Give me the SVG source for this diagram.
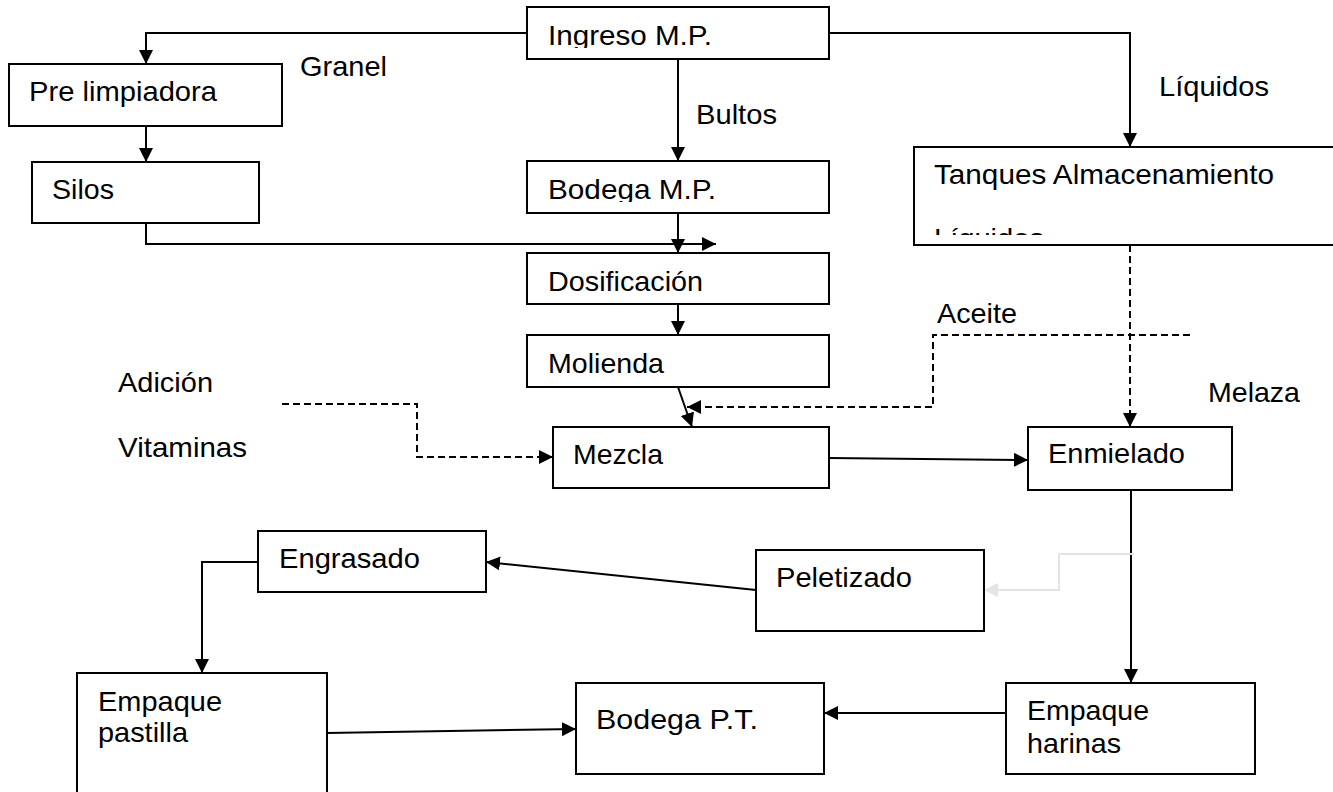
<svg xmlns="http://www.w3.org/2000/svg" width="1333" height="792" viewBox="0 0 1333 792">
<style>
.box{fill:#fff;stroke:#000;stroke-width:2}
.t{font-family:"Liberation Sans",Arial,Helvetica,sans-serif;font-size:28px;fill:#000}
.ln{fill:none;stroke:#000;stroke-width:2}
.ds{fill:none;stroke:#000;stroke-width:2;stroke-dasharray:7 4}
.gr{fill:none;stroke:#e4e4e4;stroke-width:2}
</style>
<defs>
<marker id="ah" markerUnits="userSpaceOnUse" markerWidth="14" markerHeight="14" refX="14" refY="7" orient="auto"><path d="M0,0 L14,7 L0,14 z" fill="#000"/></marker>
<marker id="ahg" markerUnits="userSpaceOnUse" markerWidth="14" markerHeight="14" refX="14" refY="7" orient="auto"><path d="M0,0 L14,7 L0,14 z" fill="#e4e4e4"/></marker>
<clipPath id="c1"><rect x="527" y="7" width="302" height="41"/></clipPath>
<clipPath id="c2"><rect x="527" y="161" width="302" height="41"/></clipPath>
<clipPath id="c3"><rect x="914" y="147" width="430" height="88"/></clipPath>
</defs>

<g id="connectors">
<path class="ln" d="M527,33 H146 V64" marker-end="url(#ah)"/>
<path class="ln" d="M829,33 H1130 V147" marker-end="url(#ah)"/>
<path class="ln" d="M678,59 V161" marker-end="url(#ah)"/>
<path class="ln" d="M146,126 V162" marker-end="url(#ah)"/>
<path class="ln" d="M146,223 V244 H716" marker-end="url(#ah)"/>
<path class="ln" d="M678,213 V253" marker-end="url(#ah)"/>
<path class="ln" d="M678,304 V335" marker-end="url(#ah)"/>
<path class="ln" d="M678,387 L692,427" marker-end="url(#ah)"/>
<path class="ds" d="M1190,335 H933 V407 H687" marker-end="url(#ah)"/>
<path class="ds" d="M1130,245 V427" marker-end="url(#ah)"/>
<path class="ds" d="M282,404 H417 V457 H553" marker-end="url(#ah)"/>
<path class="ln" d="M829,458 L1028,460" marker-end="url(#ah)"/>
<path class="ln" d="M1131,490 V683" marker-end="url(#ah)"/>
<path class="gr" d="M1134,554 H1059 V590 H984" marker-end="url(#ahg)"/>
<path class="ln" d="M756,590 L486,562" marker-end="url(#ah)"/>
<path class="ln" d="M258,562 H202 V673" marker-end="url(#ah)"/>
<path class="ln" d="M327,733 L576,729" marker-end="url(#ah)"/>
<path class="ln" d="M1006,713 H824" marker-end="url(#ah)"/>
</g>

<g id="labels">
<text class="t" x="300" y="76" textLength="87" lengthAdjust="spacingAndGlyphs">Granel</text>
<text class="t" x="696" y="124" textLength="81" lengthAdjust="spacingAndGlyphs">Bultos</text>
<text class="t" x="1159" y="96" textLength="110" lengthAdjust="spacingAndGlyphs">Líquidos</text>
<text class="t" x="937" y="323" textLength="80" lengthAdjust="spacingAndGlyphs">Aceite</text>
<text class="t" x="1208" y="402" textLength="92" lengthAdjust="spacingAndGlyphs">Melaza</text>
<text class="t" x="118" y="392" textLength="95" lengthAdjust="spacingAndGlyphs">Adición</text>
<text class="t" x="118" y="457" textLength="129" lengthAdjust="spacingAndGlyphs">Vitaminas</text>
</g>

<g id="ingreso">
<rect class="box" x="527" y="7" width="302" height="52"/>
<text class="t" x="548" y="45" clip-path="url(#c1)" textLength="164" lengthAdjust="spacingAndGlyphs">Ingreso M.P.</text>
</g>
<g id="prelimpiadora">
<rect class="box" x="9" y="64" width="273" height="62"/>
<text class="t" x="29" y="101" textLength="188" lengthAdjust="spacingAndGlyphs">Pre limpiadora</text>
</g>
<g id="silos">
<rect class="box" x="32" y="162" width="227" height="61"/>
<text class="t" x="52" y="199" textLength="62" lengthAdjust="spacingAndGlyphs">Silos</text>
</g>
<g id="bodegamp">
<rect class="box" x="527" y="161" width="302" height="52"/>
<text class="t" x="548" y="199" clip-path="url(#c2)" textLength="168" lengthAdjust="spacingAndGlyphs">Bodega M.P.</text>
</g>
<g id="tanques">
<rect class="box" x="914" y="147" width="430" height="98"/>
<text class="t" x="934" y="184" textLength="340" lengthAdjust="spacingAndGlyphs">Tanques Almacenamiento</text>
<text class="t" x="934" y="248" clip-path="url(#c3)" textLength="110" lengthAdjust="spacingAndGlyphs">Líquidos</text>
</g>
<g id="dosificacion">
<rect class="box" x="527" y="253" width="302" height="51"/>
<text class="t" x="548" y="291" textLength="155" lengthAdjust="spacingAndGlyphs">Dosificación</text>
</g>
<g id="molienda">
<rect class="box" x="527" y="335" width="302" height="52"/>
<text class="t" x="548" y="373" textLength="116" lengthAdjust="spacingAndGlyphs">Molienda</text>
</g>
<g id="mezcla">
<rect class="box" x="553" y="427" width="276" height="61"/>
<text class="t" x="573" y="464" textLength="90" lengthAdjust="spacingAndGlyphs">Mezcla</text>
</g>
<g id="enmielado">
<rect class="box" x="1028" y="427" width="204" height="63"/>
<text class="t" x="1048" y="463" textLength="137" lengthAdjust="spacingAndGlyphs">Enmielado</text>
</g>
<g id="peletizado">
<rect class="box" x="756" y="550" width="228" height="81"/>
<text class="t" x="776" y="587" textLength="136" lengthAdjust="spacingAndGlyphs">Peletizado</text>
</g>
<g id="engrasado">
<rect class="box" x="258" y="531" width="228" height="61"/>
<text class="t" x="279" y="568" textLength="141" lengthAdjust="spacingAndGlyphs">Engrasado</text>
</g>
<g id="empaquepastilla">
<rect class="box" x="77" y="673" width="250" height="130"/>
<text class="t" x="98" y="711" textLength="124" lengthAdjust="spacingAndGlyphs">Empaque</text>
<text class="t" x="98" y="742" textLength="90" lengthAdjust="spacingAndGlyphs">pastilla</text>
</g>
<g id="bodegapt">
<rect class="box" x="576" y="683" width="248" height="91"/>
<text class="t" x="596" y="729" textLength="162" lengthAdjust="spacingAndGlyphs">Bodega P.T.</text>
</g>
<g id="empaqueharinas">
<rect class="box" x="1006" y="683" width="249" height="91"/>
<text class="t" x="1027" y="720" textLength="122" lengthAdjust="spacingAndGlyphs">Empaque</text>
<text class="t" x="1027" y="753" textLength="94" lengthAdjust="spacingAndGlyphs">harinas</text>
</g>
</svg>
